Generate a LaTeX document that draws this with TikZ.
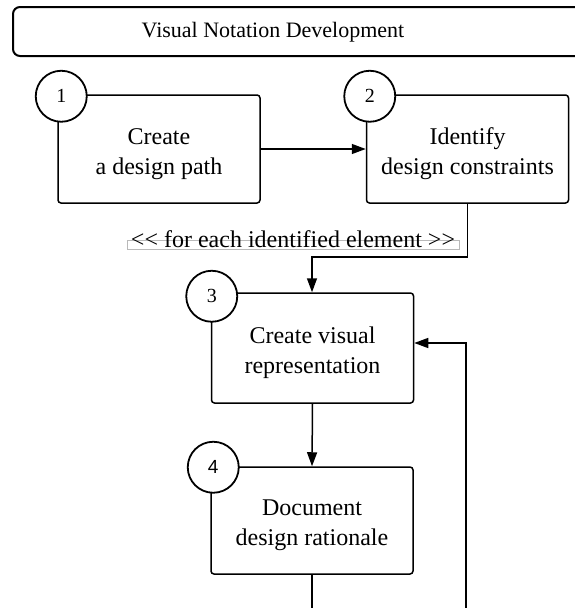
\documentclass[tikz,border=0pt]{standalone}
\usepackage{fontspec}
\setmainfont{Liberation Serif}[Ligatures=TeXOff]
\newfontfamily\numsans{Liberation Sans}
\usetikzlibrary{arrows.meta}
\begin{document}
\begin{tikzpicture}[x=1pt,y=-1pt,
  stepbox/.style={draw, line width=1.5pt, rounded corners=3pt,
    minimum width=202pt, minimum height=108pt, inner sep=0pt},
  steptext/.style={align=center, inner sep=0pt, yshift=-5pt,
    font=\fontsize{24}{30}\selectfont},
  num/.style={draw, circle, line width=1.8pt, fill=white,
    minimum size=51pt, inner sep=0pt, font=\fontsize{20}{20}\selectfont},
  flow/.style={line width=1.5pt, -{Triangle[length=14pt,width=10pt]}}]
\useasboundingbox (0,0) rectangle (575,608);
\clip (0,0) rectangle (575,608);

% title bar, running off the right edge
\draw[line width=2pt, rounded corners=7pt] (13,7) rectangle (640,56);
\node[font=\fontsize{22}{22}\selectfont] (title) at (273,32) {Visual Notation Development};

% process steps
\node[stepbox] (s1) at (159,149) {};
\node[stepbox] (s2) at (467.5,149) {};
\node[stepbox, minimum height=110pt] (s3) at (312.5,348) {};
\node[stepbox, minimum height=107pt] (s4) at (312,520.5) {};
\node[steptext] (t1) at (s1.center) {Create\\a design path};
\node[steptext] (t2) at (s2.center) {Identify\\design constraints};
\node[steptext] (t3) at (s3.center) {Create visual\\representation};
\node[steptext] (t4) at (s4.center) {Document\\design rationale};

% step numbers on the top-left corners
\node[num] (n1) at ([shift={(4,2)}]s1.north west) {1};
\node[num] (n2) at ([shift={(4,2)}]s2.north west) {2};
\node[num] (n3) at ([shift={(1,4)}]s3.north west) {3};
\node[num, font=\numsans\fontsize{19}{19}\selectfont] (n4) at ([shift={(3,1)}]s4.north west) {4};

% iteration label
\draw[gray!55, line width=0.6pt] (127,240) rectangle (459,249);
\node[font=\fontsize{24}{24}\selectfont, inner sep=0pt] (loop) at (293,239) {<< for each identified element >>};

% connectors
\coordinate (turn) at (312,257);
\coordinate (low) at (312,650);
\coordinate (back) at (466,650);
\draw[flow] (s1.east |- 0,149) -- (s2.west |- 0,149);
\draw[flow] (s2.south) -- (s2.south |- turn) -- (turn) -- (s3.north -| turn);
\draw[flow] (s3.south) -- (s4.north);
\draw[flow] (s4.south) -- (low) -- (back) -- (back |- 0,343) -- (s3.east |- 0,343);
\end{tikzpicture}
\end{document}
